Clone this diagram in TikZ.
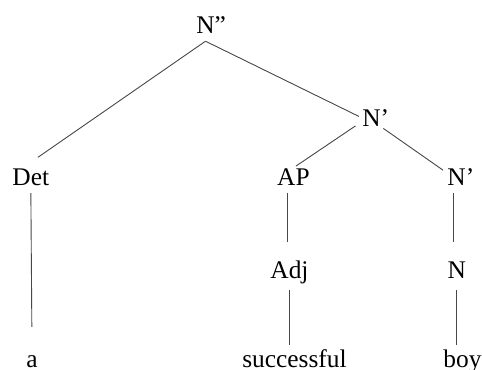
\documentclass[tikz,border=0pt]{standalone}
\usepackage{fontspec}
\setmainfont{Liberation Serif}
\begin{document}
\begin{tikzpicture}[x=1bp,y=1bp,
  lbl/.style={anchor=base,inner sep=0pt,text height=17bp,text depth=0pt,
    font=\fontsize{25.5}{30}\selectfont},
  branch/.style={draw=black!72,line width=0.9bp}]
\useasboundingbox (0,0) rectangle (482,369);
% category labels and words, placed by baseline
\node[lbl] (nn)   at (205.5,336) {N\rlap{”}};
\node[lbl] (det)  at (30.8,184)  {Det};
\node[lbl] (np1)  at (371.5,242.5) {N\rlap{’}};
\node[lbl] (ap)   at (293.4,184) {AP};
\node[lbl] (np2)  at (456.6,184) {N\rlap{’}};
\node[lbl] (adj)  at (289.5,91)  {Adj};
\node[lbl] (n)    at (456.7,91)  {N};
\node[lbl] (a)    at (32,2)      {a};
\node[lbl] (succ) at (294.5,2)   {successful};
\node[lbl] (boy)  at (462.5,2)   {boy};
% branches
\draw[branch,shorten >=18.5bp] ([yshift=-8bp]nn.south) -- ([xshift=-8bp]det.north);
\draw[branch,shorten >=3.5bp] ([yshift=-8bp]nn.south) -- (np1.west);
\draw[branch,shorten <=8bp,shorten >=3bp] (np1.200) -- (ap.north);
\draw[branch,shorten <=3bp,shorten >=5bp] (np1.south east) -- (np2.160);
\draw[branch,shorten <=8bp,shorten >=23bp] (det.south) -- (a.north);
\draw[branch,shorten <=8bp,shorten >=19bp] ([xshift=-6bp]ap.south) -- ([xshift=-6bp]ap.south |- adj.north);
\draw[branch,shorten <=12bp,shorten >=5bp] (adj.south) -- (adj.south |- succ.north);
\draw[branch,shorten <=8bp,shorten >=19bp] ([xshift=-3.5bp]np2.south) -- ([xshift=-3.5bp]np2.south |- n.north);
\draw[branch,shorten <=12bp,shorten >=5bp] (n.south) -- (n.south |- boy.north);
\end{tikzpicture}
\end{document}
